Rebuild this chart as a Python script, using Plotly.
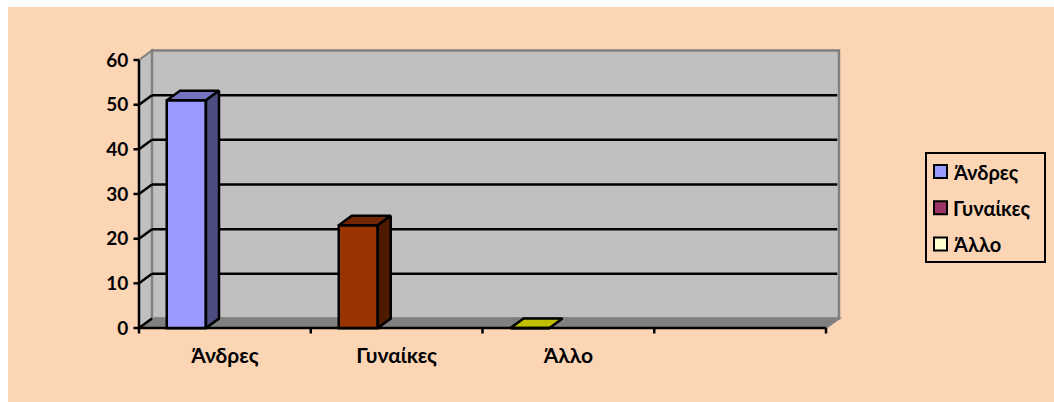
import plotly.graph_objects as go

# Survey result by gender
categories = ["Άνδρες", "Γυναίκες", "Άλλο"]
values = [51, 23, 0]
front_colors = ["#9999FF", "#993300", "#C0C000"]
top_colors = ["#7373BF", "#732600", "#C0C000"]
side_colors = ["#4D4D80", "#4D1A00", "#606000"]
legend_labels = ["Άνδρες", "Γυναίκες", "Άλλο"]
legend_colors = ["#9999FF", "#993366", "#FFFFCC"]
y_ticks = [0, 10, 20, 30, 40, 50, 60]

W, H = 1054, 402
FONT = "Lato, 'Noto Sans', sans-serif"
PEACH = "#FCD5B5"
LINE = 2.5

# Axis scale and pseudo-3D depth
PX_PER_SLOT = 171.75
PX_PER_UNIT = 4.467
DX = 13 / PX_PER_SLOT
DY = 9.5 / PX_PER_UNIT
BAR_W = 39 / PX_PER_SLOT
BAR_OFFSET = 28 / PX_PER_SLOT
N_SLOTS = 4
Y_MAX = 60
# Room around the box so its outlines are not clipped by the plot area
PAD = 3
PAD_X = PAD / PX_PER_SLOT
PAD_Y = PAD / PX_PER_UNIT
LEFT, BOTTOM = 139, 328
TICK = 5.5

fig = go.Figure()

# Front faces of the columns
fig.add_trace(go.Bar(
    x=[i + BAR_OFFSET + BAR_W / 2 for i in range(len(categories))],
    y=values,
    width=BAR_W,
    marker=dict(color=front_colors, line=dict(color="black", width=LINE)),
    showlegend=False,
    hoverinfo="skip",
))


def polygon(xs, ys, fill):
    fig.add_trace(go.Scatter(
        x=xs + xs[:1], y=ys + ys[:1], mode="lines", fill="toself",
        fillcolor=fill, line=dict(color="black", width=LINE),
        showlegend=False, hoverinfo="skip",
    ))


# Top and right faces of the columns
for i, v in enumerate(values):
    x0 = i + BAR_OFFSET
    x1 = x0 + BAR_W
    polygon([x0, x1, x1 + DX, x0 + DX], [v, v, v + DY, v + DY], top_colors[i])
    if v > 0:
        polygon([x1, x1 + DX, x1 + DX, x1], [0, DY, v + DY, v], side_colors[i])

# Chart-area background, inset from the top and left page edges
shapes = [
    dict(type="rect", layer="below", xref="paper", yref="paper",
         x0=8 / W, x1=1, y0=0, y1=1 - 7 / H, fillcolor=PEACH, line_width=0),
]
# Walls and floor of the chart box
shapes += [
    dict(type="path", layer="below", fillcolor="#C0C0C0",
         line=dict(color="#808080", width=2),
         path=f"M 0 0 L {DX} {DY} L {DX} {Y_MAX + DY} L 0 {Y_MAX} Z"),
    dict(type="rect", layer="below", fillcolor="#C0C0C0",
         line=dict(color="#808080", width=2.5),
         x0=DX, x1=N_SLOTS + DX, y0=DY, y1=Y_MAX + DY),
    dict(type="path", layer="below", fillcolor="#808080",
         line=dict(color="#808080", width=2),
         path=f"M 0 0 L {N_SLOTS} 0 L {N_SLOTS + DX} {DY} L {DX} {DY} Z"),
]
# Gridlines run along the back wall and step down the side wall
for t in y_ticks:
    if 0 < t < Y_MAX:
        shapes.append(dict(type="line", layer="below", line=dict(color="black", width=LINE),
                           x0=DX, x1=N_SLOTS + DX - 0.01, y0=t + DY, y1=t + DY))
    if t < Y_MAX:
        shapes.append(dict(type="line", layer="below", line=dict(color="black", width=LINE),
                           x0=0, x1=DX, y0=t, y1=t + DY))
    # Axis tick, positioned by the y scale and sized in page fractions
    shapes.append(dict(type="line", layer="above", xref="paper", yref="y",
                       line=dict(color="black", width=LINE),
                       x0=(LEFT - TICK) / W, x1=LEFT / W, y0=t, y1=t))
for s in range(N_SLOTS + 1):
    shapes.append(dict(type="line", layer="above", xref="x", yref="paper",
                       line=dict(color="black", width=LINE),
                       x0=s, x1=s, y0=1 - (BOTTOM + TICK) / H, y1=1 - BOTTOM / H))
# Front edges of the box
shapes.append(dict(type="line", layer="above", line=dict(color="black", width=LINE),
                   x0=0, x1=0, y0=0, y1=Y_MAX))
shapes.append(dict(type="line", layer="above", line=dict(color="black", width=LINE),
                   x0=0, x1=N_SLOTS, y0=0, y1=0))

# Legend box, swatches and labels, placed in page fractions
shapes.append(dict(type="rect", xref="paper", yref="paper", layer="above",
                   x0=926 / W, x1=1045 / W, y0=1 - 262 / H, y1=1 - 153 / H,
                   line=dict(color="black", width=2), fillcolor="rgba(0,0,0,0)"))
annotations = []
for i, (label, color) in enumerate(zip(legend_labels, legend_colors)):
    cy = 171.5 + 36.3 * i
    shapes.append(dict(type="rect", xref="paper", yref="paper", layer="above",
                       x0=934 / W, x1=947 / W,
                       y0=1 - (cy + 6.5) / H, y1=1 - (cy - 6.5) / H,
                       fillcolor=color, line=dict(color="black", width=2)))
    annotations.append(dict(text=label, xref="paper", yref="paper", showarrow=False,
                            x=951 / W, y=1 - cy / H, xanchor="left", yanchor="middle",
                            font=dict(family=FONT, size=20, color="black", weight="bold")))

fig.update_layout(
    width=W, height=H,
    margin=dict(l=0, r=0, t=0, b=0),
    paper_bgcolor="white",
    plot_bgcolor="rgba(0,0,0,0)",
    font=dict(family=FONT, size=20, color="black", weight="bold"),
    shapes=shapes,
    annotations=annotations,
    bargap=0,
    showlegend=False,
    xaxis=dict(
        automargin=False,
        domain=[(LEFT - PAD) / W, (826 + 13 + PAD) / W],
        range=[-PAD_X, N_SLOTS + DX + PAD_X],
        tickmode="array",
        tickvals=[i + 0.5 for i in range(len(categories))],
        ticktext=categories,
        tickfont=dict(size=21),
        ticks="outside", ticklen=6, tickcolor="rgba(0,0,0,0)",
        showgrid=False, zeroline=False, showline=False,
    ),
    yaxis=dict(
        automargin=False,
        domain=[(H - BOTTOM - PAD) / H, (H - 60 + 9.5 + PAD) / H],
        range=[-PAD_Y, Y_MAX + DY + PAD_Y],
        tickmode="array", tickvals=y_ticks, tickfont=dict(size=19),
        ticks="outside", ticklen=3, tickcolor="rgba(0,0,0,0)",
        showgrid=False, zeroline=False, showline=False,
    ),
)

fig.write_html("out.html")
